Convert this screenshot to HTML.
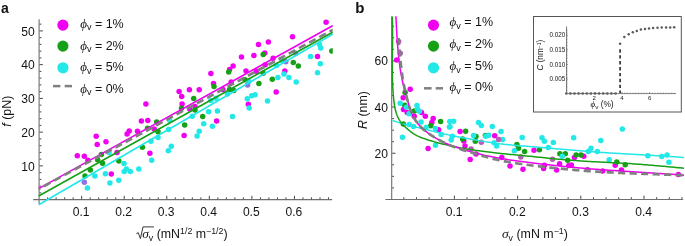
<!DOCTYPE html>
<html><head><meta charset="utf-8"><style>
html,body{margin:0;padding:0;background:#fff;}
svg{display:block;filter:blur(0.4px);}
</style></head><body>
<svg xmlns="http://www.w3.org/2000/svg" width="685" height="246" viewBox="0 0 685 246">
<rect width="685" height="246" fill="#fff"/>
<defs><clipPath id="cl"><rect x="33" y="15" width="299.8" height="195"/></clipPath><clipPath id="cr"><rect x="385" y="15" width="300" height="185"/></clipPath></defs><g stroke="#6e6e6e" stroke-width="1.1" fill="none"><line x1="33.1" y1="199.65" x2="332.2" y2="199.65"/><line x1="39.1" y1="19.3" x2="39.1" y2="204.2"/></g><g stroke="#333" stroke-width="0.9"><line x1="47.61" y1="199.15" x2="47.61" y2="197.35" /><line x1="56.12" y1="199.15" x2="56.12" y2="197.35" /><line x1="64.64" y1="199.15" x2="64.64" y2="197.35" /><line x1="73.15" y1="199.15" x2="73.15" y2="197.35" /><line x1="90.17" y1="199.15" x2="90.17" y2="197.35" /><line x1="98.68" y1="199.15" x2="98.68" y2="197.35" /><line x1="107.20" y1="199.15" x2="107.20" y2="197.35" /><line x1="115.71" y1="199.15" x2="115.71" y2="197.35" /><line x1="132.73" y1="199.15" x2="132.73" y2="197.35" /><line x1="141.24" y1="199.15" x2="141.24" y2="197.35" /><line x1="149.76" y1="199.15" x2="149.76" y2="197.35" /><line x1="158.27" y1="199.15" x2="158.27" y2="197.35" /><line x1="175.29" y1="199.15" x2="175.29" y2="197.35" /><line x1="183.80" y1="199.15" x2="183.80" y2="197.35" /><line x1="192.32" y1="199.15" x2="192.32" y2="197.35" /><line x1="200.83" y1="199.15" x2="200.83" y2="197.35" /><line x1="217.85" y1="199.15" x2="217.85" y2="197.35" /><line x1="226.36" y1="199.15" x2="226.36" y2="197.35" /><line x1="234.88" y1="199.15" x2="234.88" y2="197.35" /><line x1="243.39" y1="199.15" x2="243.39" y2="197.35" /><line x1="260.41" y1="199.15" x2="260.41" y2="197.35" /><line x1="268.92" y1="199.15" x2="268.92" y2="197.35" /><line x1="277.44" y1="199.15" x2="277.44" y2="197.35" /><line x1="285.95" y1="199.15" x2="285.95" y2="197.35" /><line x1="302.97" y1="199.15" x2="302.97" y2="197.35" /><line x1="311.48" y1="199.15" x2="311.48" y2="197.35" /><line x1="320.00" y1="199.15" x2="320.00" y2="197.35" /><line x1="328.51" y1="199.15" x2="328.51" y2="197.35" /><line x1="81.66" y1="199.15" x2="81.66" y2="195.85" /><line x1="124.22" y1="199.15" x2="124.22" y2="195.85" /><line x1="166.78" y1="199.15" x2="166.78" y2="195.85" /><line x1="209.34" y1="199.15" x2="209.34" y2="195.85" /><line x1="251.90" y1="199.15" x2="251.90" y2="195.85" /><line x1="294.46" y1="199.15" x2="294.46" y2="195.85" /><line x1="39.6" y1="192.90" x2="41.4" y2="192.90" /><line x1="39.6" y1="186.15" x2="41.4" y2="186.15" /><line x1="39.6" y1="179.40" x2="41.4" y2="179.40" /><line x1="39.6" y1="172.65" x2="41.4" y2="172.65" /><line x1="39.6" y1="159.15" x2="41.4" y2="159.15" /><line x1="39.6" y1="152.40" x2="41.4" y2="152.40" /><line x1="39.6" y1="145.65" x2="41.4" y2="145.65" /><line x1="39.6" y1="138.90" x2="41.4" y2="138.90" /><line x1="39.6" y1="125.40" x2="41.4" y2="125.40" /><line x1="39.6" y1="118.65" x2="41.4" y2="118.65" /><line x1="39.6" y1="111.90" x2="41.4" y2="111.90" /><line x1="39.6" y1="105.15" x2="41.4" y2="105.15" /><line x1="39.6" y1="91.65" x2="41.4" y2="91.65" /><line x1="39.6" y1="84.90" x2="41.4" y2="84.90" /><line x1="39.6" y1="78.15" x2="41.4" y2="78.15" /><line x1="39.6" y1="71.40" x2="41.4" y2="71.40" /><line x1="39.6" y1="57.90" x2="41.4" y2="57.90" /><line x1="39.6" y1="51.15" x2="41.4" y2="51.15" /><line x1="39.6" y1="44.40" x2="41.4" y2="44.40" /><line x1="39.6" y1="37.65" x2="41.4" y2="37.65" /><line x1="39.6" y1="24.15" x2="41.4" y2="24.15" /><line x1="39.6" y1="165.90" x2="42.9" y2="165.90" /><line x1="39.6" y1="132.15" x2="42.9" y2="132.15" /><line x1="39.6" y1="98.40" x2="42.9" y2="98.40" /><line x1="39.6" y1="64.65" x2="42.9" y2="64.65" /><line x1="39.6" y1="30.90" x2="42.9" y2="30.90" /></g><g font-family="Liberation Sans, sans-serif" font-size="12.1" fill="#141414" text-anchor="middle"><text x="81.1" y="216.2">0.1</text><text x="123.6" y="216.2">0.2</text><text x="166.2" y="216.2">0.3</text><text x="208.7" y="216.2">0.4</text><text x="251.3" y="216.2">0.5</text><text x="293.9" y="216.2">0.6</text></g><g font-family="Liberation Sans, sans-serif" font-size="12.1" fill="#141414" text-anchor="end"><text x="34.7" y="170.5">10</text><text x="34.7" y="136.8">20</text><text x="34.7" y="103.0">30</text><text x="34.7" y="69.2">40</text><text x="34.7" y="35.5">50</text></g><g clip-path="url(#cl)"><circle cx="77.3" cy="155.8" r="2.75" fill="#f000f0"/><circle cx="84.3" cy="156.3" r="2.75" fill="#f000f0"/><circle cx="87.9" cy="160.3" r="2.75" fill="#f000f0"/><circle cx="96.2" cy="136.3" r="2.75" fill="#f000f0"/><circle cx="97.2" cy="144.5" r="2.75" fill="#f000f0"/><circle cx="106" cy="141.7" r="2.75" fill="#f000f0"/><circle cx="111.3" cy="174.1" r="2.75" fill="#f000f0"/><circle cx="117" cy="152.4" r="2.75" fill="#f000f0"/><circle cx="129.2" cy="131" r="2.75" fill="#f000f0"/><circle cx="127.1" cy="134" r="2.75" fill="#f000f0"/><circle cx="137.5" cy="131.3" r="2.75" fill="#f000f0"/><circle cx="141.4" cy="121.1" r="2.75" fill="#f000f0"/><circle cx="147.8" cy="120.5" r="2.75" fill="#f000f0"/><circle cx="145.9" cy="104" r="2.75" fill="#f000f0"/><circle cx="149.9" cy="153.2" r="2.75" fill="#f000f0"/><circle cx="154.2" cy="129" r="2.75" fill="#f000f0"/><circle cx="179.1" cy="91.6" r="2.75" fill="#f000f0"/><circle cx="181.7" cy="96.4" r="2.75" fill="#f000f0"/><circle cx="182.1" cy="103.9" r="2.75" fill="#f000f0"/><circle cx="189.4" cy="89.7" r="2.75" fill="#f000f0"/><circle cx="199.2" cy="89.7" r="2.75" fill="#f000f0"/><circle cx="189.7" cy="109" r="2.75" fill="#f000f0"/><circle cx="194.9" cy="106.6" r="2.75" fill="#f000f0"/><circle cx="184.1" cy="135.4" r="2.75" fill="#f000f0"/><circle cx="216.6" cy="121" r="2.75" fill="#f000f0"/><circle cx="210.9" cy="73.4" r="2.75" fill="#f000f0"/><circle cx="213.5" cy="83.5" r="2.75" fill="#f000f0"/><circle cx="222.9" cy="89.6" r="2.75" fill="#f000f0"/><circle cx="233.1" cy="66" r="2.75" fill="#f000f0"/><circle cx="229.6" cy="69.6" r="2.75" fill="#f000f0"/><circle cx="231.2" cy="82" r="2.75" fill="#f000f0"/><circle cx="241.5" cy="57" r="2.75" fill="#f000f0"/><circle cx="246" cy="71.1" r="2.75" fill="#f000f0"/><circle cx="256.4" cy="71.3" r="2.75" fill="#f000f0"/><circle cx="253.9" cy="55.6" r="2.75" fill="#f000f0"/><circle cx="264.8" cy="53.0" r="2.75" fill="#f000f0"/><circle cx="258.5" cy="44.6" r="2.75" fill="#f000f0"/><circle cx="268.4" cy="42.1" r="2.75" fill="#f000f0"/><circle cx="265.2" cy="64.7" r="2.75" fill="#f000f0"/><circle cx="273.1" cy="58.2" r="2.75" fill="#f000f0"/><circle cx="292.5" cy="36.7" r="2.75" fill="#f000f0"/><circle cx="326.1" cy="22.3" r="2.75" fill="#f000f0"/><circle cx="284.8" cy="71.1" r="2.75" fill="#f000f0"/><circle cx="317.5" cy="56.6" r="2.75" fill="#f000f0"/><circle cx="276.2" cy="92.1" r="2.75" fill="#f000f0"/><circle cx="248.3" cy="104.2" r="2.75" fill="#f000f0"/><circle cx="85" cy="176" r="2.75" fill="#16a016"/><circle cx="90.3" cy="170.1" r="2.75" fill="#16a016"/><circle cx="97.6" cy="159.8" r="2.75" fill="#16a016"/><circle cx="101.4" cy="154.4" r="2.75" fill="#16a016"/><circle cx="102.5" cy="163.3" r="2.75" fill="#16a016"/><circle cx="118.8" cy="161.1" r="2.75" fill="#16a016"/><circle cx="142.4" cy="147.2" r="2.75" fill="#16a016"/><circle cx="147.5" cy="128.2" r="2.75" fill="#16a016"/><circle cx="156.7" cy="122" r="2.75" fill="#16a016"/><circle cx="158" cy="131.7" r="2.75" fill="#16a016"/><circle cx="181.5" cy="108.2" r="2.75" fill="#16a016"/><circle cx="184.7" cy="125" r="2.75" fill="#16a016"/><circle cx="193.7" cy="98.4" r="2.75" fill="#16a016"/><circle cx="195" cy="110.1" r="2.75" fill="#16a016"/><circle cx="202.7" cy="116.4" r="2.75" fill="#16a016"/><circle cx="214" cy="86.5" r="2.75" fill="#16a016"/><circle cx="228.7" cy="72" r="2.75" fill="#16a016"/><circle cx="229.5" cy="89.6" r="2.75" fill="#16a016"/><circle cx="233.8" cy="90.4" r="2.75" fill="#16a016"/><circle cx="245.1" cy="79.7" r="2.75" fill="#16a016"/><circle cx="258.9" cy="83.4" r="2.75" fill="#16a016"/><circle cx="263.2" cy="54.6" r="2.75" fill="#16a016"/><circle cx="263.2" cy="73.3" r="2.75" fill="#16a016"/><circle cx="272.3" cy="79.2" r="2.75" fill="#16a016"/><circle cx="293.3" cy="62.6" r="2.75" fill="#16a016"/><circle cx="298.3" cy="65.9" r="2.75" fill="#16a016"/><circle cx="331.8" cy="50.9" r="2.75" fill="#16a016"/><circle cx="87.4" cy="188.0" r="2.75" fill="#22e8e8"/><circle cx="94.9" cy="176" r="2.75" fill="#22e8e8"/><circle cx="105.4" cy="173.8" r="2.75" fill="#22e8e8"/><circle cx="109.9" cy="183" r="2.75" fill="#22e8e8"/><circle cx="118.8" cy="180.3" r="2.75" fill="#22e8e8"/><circle cx="109" cy="152.5" r="2.75" fill="#22e8e8"/><circle cx="124" cy="163.5" r="2.75" fill="#22e8e8"/><circle cx="126.4" cy="169" r="2.75" fill="#22e8e8"/><circle cx="124.2" cy="171.5" r="2.75" fill="#22e8e8"/><circle cx="130.3" cy="171.5" r="2.75" fill="#22e8e8"/><circle cx="138.8" cy="169" r="2.75" fill="#22e8e8"/><circle cx="151" cy="141.3" r="2.75" fill="#22e8e8"/><circle cx="151.7" cy="160.3" r="2.75" fill="#22e8e8"/><circle cx="158" cy="137.6" r="2.75" fill="#22e8e8"/><circle cx="168.6" cy="129.4" r="2.75" fill="#22e8e8"/><circle cx="169.6" cy="120.3" r="2.75" fill="#22e8e8"/><circle cx="171.3" cy="146.3" r="2.75" fill="#22e8e8"/><circle cx="168.3" cy="150.8" r="2.75" fill="#22e8e8"/><circle cx="192.2" cy="116.3" r="2.75" fill="#22e8e8"/><circle cx="199.2" cy="131.2" r="2.75" fill="#22e8e8"/><circle cx="197.1" cy="136.1" r="2.75" fill="#22e8e8"/><circle cx="203.7" cy="123.7" r="2.75" fill="#22e8e8"/><circle cx="208.6" cy="111.8" r="2.75" fill="#22e8e8"/><circle cx="212.4" cy="126.2" r="2.75" fill="#22e8e8"/><circle cx="217.4" cy="111" r="2.75" fill="#22e8e8"/><circle cx="210.8" cy="100.4" r="2.75" fill="#22e8e8"/><circle cx="216" cy="98.3" r="2.75" fill="#22e8e8"/><circle cx="227.4" cy="94" r="2.75" fill="#22e8e8"/><circle cx="232.5" cy="116.5" r="2.75" fill="#22e8e8"/><circle cx="248.8" cy="81.6" r="2.75" fill="#22e8e8"/><circle cx="247.3" cy="98.7" r="2.75" fill="#22e8e8"/><circle cx="251.7" cy="95.8" r="2.75" fill="#22e8e8"/><circle cx="255.1" cy="94.8" r="2.75" fill="#22e8e8"/><circle cx="249.2" cy="108" r="2.75" fill="#22e8e8"/><circle cx="267.5" cy="100.9" r="2.75" fill="#22e8e8"/><circle cx="276.4" cy="65.4" r="2.75" fill="#22e8e8"/><circle cx="282.1" cy="60.5" r="2.75" fill="#22e8e8"/><circle cx="277.9" cy="77.6" r="2.75" fill="#22e8e8"/><circle cx="284" cy="73.9" r="2.75" fill="#22e8e8"/><circle cx="288.9" cy="77.5" r="2.75" fill="#22e8e8"/><circle cx="296.2" cy="82" r="2.75" fill="#22e8e8"/><circle cx="310.5" cy="56.5" r="2.75" fill="#22e8e8"/><circle cx="319.5" cy="44.5" r="2.75" fill="#22e8e8"/><circle cx="320.7" cy="48" r="2.75" fill="#22e8e8"/><circle cx="320.3" cy="63.7" r="2.75" fill="#22e8e8"/><circle cx="317.5" cy="72.8" r="2.75" fill="#22e8e8"/><circle cx="84.3" cy="182.2" r="2.75" fill="#9070e6"/><circle cx="247.6" cy="84.9" r="2.75" fill="#9070e6"/><circle cx="285.8" cy="61.7" r="2.75" fill="#9070e6"/><circle cx="295.6" cy="53.3" r="2.75" fill="#9070e6"/><line x1="38.7" y1="204.8" x2="333" y2="34.0" stroke="#22e8e8" stroke-width="1.6"/><line x1="38.7" y1="196.0" x2="333" y2="32.0" stroke="#16a016" stroke-width="1.6"/><line x1="38.7" y1="188.6" x2="333" y2="25.5" stroke="#f000f0" stroke-width="1.6"/><line x1="38.7" y1="189.0" x2="333" y2="29.7" stroke="#808080" stroke-width="2.7" stroke-dasharray="7.4 4.2" stroke-dashoffset="5.7"/></g><g stroke="#6e6e6e" stroke-width="1.1" fill="none"><line x1="385.4" y1="199.45" x2="683.2" y2="199.45"/><line x1="391.7" y1="16.5" x2="391.7" y2="199.45"/></g><g stroke="#333" stroke-width="0.9"><line x1="403.84" y1="198.95" x2="403.84" y2="197.14999999999998" /><line x1="416.48" y1="198.95" x2="416.48" y2="197.14999999999998" /><line x1="429.12" y1="198.95" x2="429.12" y2="197.14999999999998" /><line x1="441.76" y1="198.95" x2="441.76" y2="197.14999999999998" /><line x1="467.04" y1="198.95" x2="467.04" y2="197.14999999999998" /><line x1="479.68" y1="198.95" x2="479.68" y2="197.14999999999998" /><line x1="492.32" y1="198.95" x2="492.32" y2="197.14999999999998" /><line x1="504.96" y1="198.95" x2="504.96" y2="197.14999999999998" /><line x1="530.24" y1="198.95" x2="530.24" y2="197.14999999999998" /><line x1="542.88" y1="198.95" x2="542.88" y2="197.14999999999998" /><line x1="555.52" y1="198.95" x2="555.52" y2="197.14999999999998" /><line x1="568.16" y1="198.95" x2="568.16" y2="197.14999999999998" /><line x1="593.44" y1="198.95" x2="593.44" y2="197.14999999999998" /><line x1="606.08" y1="198.95" x2="606.08" y2="197.14999999999998" /><line x1="618.72" y1="198.95" x2="618.72" y2="197.14999999999998" /><line x1="631.36" y1="198.95" x2="631.36" y2="197.14999999999998" /><line x1="656.64" y1="198.95" x2="656.64" y2="197.14999999999998" /><line x1="669.28" y1="198.95" x2="669.28" y2="197.14999999999998" /><line x1="681.92" y1="198.95" x2="681.92" y2="197.14999999999998" /><line x1="454.40" y1="198.95" x2="454.40" y2="195.64999999999998" /><line x1="517.60" y1="198.95" x2="517.60" y2="195.64999999999998" /><line x1="580.80" y1="198.95" x2="580.80" y2="195.64999999999998" /><line x1="644.00" y1="198.95" x2="644.00" y2="195.64999999999998" /><line x1="392.2" y1="187.90" x2="394.0" y2="187.90" /><line x1="392.2" y1="176.35" x2="394.0" y2="176.35" /><line x1="392.2" y1="164.80" x2="394.0" y2="164.80" /><line x1="392.2" y1="141.70" x2="394.0" y2="141.70" /><line x1="392.2" y1="130.15" x2="394.0" y2="130.15" /><line x1="392.2" y1="118.60" x2="394.0" y2="118.60" /><line x1="392.2" y1="95.50" x2="394.0" y2="95.50" /><line x1="392.2" y1="83.95" x2="394.0" y2="83.95" /><line x1="392.2" y1="72.40" x2="394.0" y2="72.40" /><line x1="392.2" y1="49.30" x2="394.0" y2="49.30" /><line x1="392.2" y1="37.75" x2="394.0" y2="37.75" /><line x1="392.2" y1="26.20" x2="394.0" y2="26.20" /><line x1="392.2" y1="153.25" x2="395.5" y2="153.25" /><line x1="392.2" y1="107.05" x2="395.5" y2="107.05" /><line x1="392.2" y1="60.85" x2="395.5" y2="60.85" /></g><g font-family="Liberation Sans, sans-serif" font-size="12.1" fill="#141414" text-anchor="middle"><text x="454.1" y="216.2">0.1</text><text x="517.3" y="216.2">0.2</text><text x="580.5" y="216.2">0.3</text><text x="643.7" y="216.2">0.4</text></g><g font-family="Liberation Sans, sans-serif" font-size="12.1" fill="#141414" text-anchor="end"><text x="387.9" y="157.8">20</text><text x="387.9" y="111.5">40</text><text x="387.9" y="65.3">60</text></g><g clip-path="url(#cr)"><circle cx="396.7" cy="60" r="2.75" fill="#f000f0"/><circle cx="438.6" cy="129.8" r="2.75" fill="#f000f0"/><circle cx="421.5" cy="112.4" r="2.75" fill="#f000f0"/><circle cx="414.2" cy="116.3" r="2.75" fill="#f000f0"/><circle cx="410.2" cy="89.3" r="2.75" fill="#f000f0"/><circle cx="403.2" cy="97.7" r="2.75" fill="#f000f0"/><circle cx="403.5" cy="109.6" r="2.75" fill="#f000f0"/><circle cx="407.2" cy="112.5" r="2.75" fill="#f000f0"/><circle cx="425.3" cy="116.3" r="2.75" fill="#f000f0"/><circle cx="433.2" cy="118.4" r="2.75" fill="#f000f0"/><circle cx="431.8" cy="122.4" r="2.75" fill="#f000f0"/><circle cx="428.1" cy="148.6" r="2.75" fill="#f000f0"/><circle cx="460.1" cy="131.4" r="2.75" fill="#f000f0"/><circle cx="463.8" cy="141.1" r="2.75" fill="#f000f0"/><circle cx="465" cy="146" r="2.75" fill="#f000f0"/><circle cx="476" cy="153.9" r="2.75" fill="#f000f0"/><circle cx="470.2" cy="159.4" r="2.75" fill="#f000f0"/><circle cx="494.7" cy="135.8" r="2.75" fill="#f000f0"/><circle cx="501.8" cy="157.6" r="2.75" fill="#f000f0"/><circle cx="510" cy="166" r="2.75" fill="#f000f0"/><circle cx="523" cy="169.3" r="2.75" fill="#f000f0"/><circle cx="534" cy="150.3" r="2.75" fill="#f000f0"/><circle cx="544.4" cy="165.2" r="2.75" fill="#f000f0"/><circle cx="543.6" cy="168.5" r="2.75" fill="#f000f0"/><circle cx="556.6" cy="170.1" r="2.75" fill="#f000f0"/><circle cx="559.6" cy="163.8" r="2.75" fill="#f000f0"/><circle cx="574.4" cy="157.6" r="2.75" fill="#f000f0"/><circle cx="583.8" cy="156.3" r="2.75" fill="#f000f0"/><circle cx="568.8" cy="165.4" r="2.75" fill="#f000f0"/><circle cx="571.3" cy="165" r="2.75" fill="#f000f0"/><circle cx="615.2" cy="165.3" r="2.75" fill="#f000f0"/><circle cx="602.7" cy="171" r="2.75" fill="#f000f0"/><circle cx="621.5" cy="170" r="2.75" fill="#f000f0"/><circle cx="678.4" cy="174.4" r="2.75" fill="#f000f0"/><circle cx="405.1" cy="92.5" r="2.75" fill="#16a016"/><circle cx="404.8" cy="105.2" r="2.75" fill="#16a016"/><circle cx="414.3" cy="111" r="2.75" fill="#16a016"/><circle cx="403.3" cy="123.9" r="2.75" fill="#16a016"/><circle cx="440.6" cy="121.4" r="2.75" fill="#16a016"/><circle cx="430.7" cy="125.8" r="2.75" fill="#16a016"/><circle cx="465.6" cy="131.3" r="2.75" fill="#16a016"/><circle cx="462.6" cy="138.9" r="2.75" fill="#16a016"/><circle cx="476" cy="136.6" r="2.75" fill="#16a016"/><circle cx="475.3" cy="141.2" r="2.75" fill="#16a016"/><circle cx="485.4" cy="135.6" r="2.75" fill="#16a016"/><circle cx="516.9" cy="144.6" r="2.75" fill="#16a016"/><circle cx="518.5" cy="148.2" r="2.75" fill="#16a016"/><circle cx="524.6" cy="151.6" r="2.75" fill="#16a016"/><circle cx="539.4" cy="149.8" r="2.75" fill="#16a016"/><circle cx="559.9" cy="153.7" r="2.75" fill="#16a016"/><circle cx="565.3" cy="153.7" r="2.75" fill="#16a016"/><circle cx="576.1" cy="155" r="2.75" fill="#16a016"/><circle cx="581" cy="155" r="2.75" fill="#16a016"/><circle cx="567.7" cy="160.3" r="2.75" fill="#16a016"/><circle cx="616.8" cy="162.1" r="2.75" fill="#16a016"/><circle cx="625.2" cy="164.8" r="2.75" fill="#16a016"/><circle cx="400.2" cy="103.2" r="2.75" fill="#22e8e8"/><circle cx="406.5" cy="107.2" r="2.75" fill="#22e8e8"/><circle cx="409" cy="113.8" r="2.75" fill="#22e8e8"/><circle cx="417" cy="105.5" r="2.75" fill="#22e8e8"/><circle cx="417.5" cy="109.3" r="2.75" fill="#22e8e8"/><circle cx="419.4" cy="111.2" r="2.75" fill="#22e8e8"/><circle cx="421" cy="122" r="2.75" fill="#22e8e8"/><circle cx="409.2" cy="124.4" r="2.75" fill="#22e8e8"/><circle cx="413.5" cy="126.4" r="2.75" fill="#22e8e8"/><circle cx="402.5" cy="137.2" r="2.75" fill="#22e8e8"/><circle cx="426.1" cy="127.4" r="2.75" fill="#22e8e8"/><circle cx="435.4" cy="128.5" r="2.75" fill="#22e8e8"/><circle cx="449.8" cy="121.4" r="2.75" fill="#22e8e8"/><circle cx="453.6" cy="121.3" r="2.75" fill="#22e8e8"/><circle cx="450" cy="126.8" r="2.75" fill="#22e8e8"/><circle cx="449.5" cy="127" r="2.75" fill="#22e8e8"/><circle cx="441.1" cy="134.6" r="2.75" fill="#22e8e8"/><circle cx="452.3" cy="136.2" r="2.75" fill="#22e8e8"/><circle cx="451.2" cy="140" r="2.75" fill="#22e8e8"/><circle cx="435.5" cy="145.3" r="2.75" fill="#22e8e8"/><circle cx="478.5" cy="122.4" r="2.75" fill="#22e8e8"/><circle cx="481.3" cy="125.4" r="2.75" fill="#22e8e8"/><circle cx="492.3" cy="126.5" r="2.75" fill="#22e8e8"/><circle cx="501" cy="131.6" r="2.75" fill="#22e8e8"/><circle cx="488.8" cy="135.3" r="2.75" fill="#22e8e8"/><circle cx="473.6" cy="135.5" r="2.75" fill="#22e8e8"/><circle cx="485.8" cy="136.2" r="2.75" fill="#22e8e8"/><circle cx="502.6" cy="139.4" r="2.75" fill="#22e8e8"/><circle cx="494.1" cy="142.7" r="2.75" fill="#22e8e8"/><circle cx="496.6" cy="146" r="2.75" fill="#22e8e8"/><circle cx="522.2" cy="137.6" r="2.75" fill="#22e8e8"/><circle cx="514.4" cy="150.8" r="2.75" fill="#22e8e8"/><circle cx="542" cy="137.8" r="2.75" fill="#22e8e8"/><circle cx="544.4" cy="141.2" r="2.75" fill="#22e8e8"/><circle cx="553.3" cy="142.4" r="2.75" fill="#22e8e8"/><circle cx="548.3" cy="147.4" r="2.75" fill="#22e8e8"/><circle cx="562.3" cy="156.2" r="2.75" fill="#22e8e8"/><circle cx="573.7" cy="137.7" r="2.75" fill="#22e8e8"/><circle cx="591" cy="148.3" r="2.75" fill="#22e8e8"/><circle cx="588.3" cy="151.5" r="2.75" fill="#22e8e8"/><circle cx="597.3" cy="151.4" r="2.75" fill="#22e8e8"/><circle cx="600.8" cy="140.4" r="2.75" fill="#22e8e8"/><circle cx="609.2" cy="159.8" r="2.75" fill="#22e8e8"/><circle cx="622.3" cy="129.1" r="2.75" fill="#22e8e8"/><circle cx="647.9" cy="155.7" r="2.75" fill="#22e8e8"/><circle cx="661.8" cy="156.4" r="2.75" fill="#22e8e8"/><circle cx="667" cy="154.9" r="2.75" fill="#22e8e8"/><circle cx="668.9" cy="162.3" r="2.75" fill="#22e8e8"/><circle cx="398.6" cy="41.5" r="2.75" fill="#b85cb8"/><circle cx="400.3" cy="53.3" r="2.75" fill="#b85cb8"/><circle cx="471.1" cy="149" r="2.75" fill="#b85cb8"/><circle cx="481.3" cy="142.2" r="2.75" fill="#b85cb8"/><circle cx="498.6" cy="139.6" r="2.75" fill="#b85cb8"/><circle cx="520.8" cy="157.1" r="2.75" fill="#b85cb8"/><circle cx="552.5" cy="159.2" r="2.75" fill="#b85cb8"/><circle cx="587.5" cy="169.5" r="2.75" fill="#b85cb8"/><path d="M392.50,120.50 L393.90,120.98 L395.30,121.45 L396.71,121.91 L398.12,122.35 L399.54,122.79 L400.96,123.21 L402.38,123.62 L403.81,124.03 L405.23,124.42 L406.67,124.80 L408.10,125.17 L409.53,125.53 L410.97,125.89 L412.41,126.25 L413.85,126.60 L415.29,126.95 L416.72,127.29 L418.16,127.64 L419.60,127.99 L421.04,128.33 L422.48,128.68 L423.92,129.03 L425.36,129.38 L426.80,129.73 L428.24,130.08 L429.67,130.43 L431.11,130.78 L432.55,131.13 L433.99,131.49 L435.43,131.84 L436.87,132.18 L438.31,132.53 L439.75,132.88 L441.19,133.22 L442.63,133.55 L444.07,133.89 L445.52,134.22 L446.96,134.54 L448.41,134.86 L449.85,135.17 L451.30,135.47 L452.75,135.77 L454.20,136.06 L455.66,136.35 L457.11,136.63 L458.56,136.91 L460.02,137.18 L461.48,137.45 L462.93,137.72 L464.39,137.98 L465.85,138.25 L467.30,138.51 L468.76,138.78 L470.22,139.04 L471.68,139.30 L473.13,139.57 L474.59,139.83 L476.05,140.10 L477.51,140.36 L478.96,140.62 L480.42,140.88 L481.88,141.13 L483.34,141.38 L484.80,141.63 L486.26,141.87 L487.72,142.11 L489.18,142.34 L490.65,142.57 L492.11,142.79 L493.58,143.00 L495.04,143.21 L496.51,143.40 L497.98,143.59 L499.44,143.77 L500.91,143.95 L502.38,144.12 L503.86,144.28 L505.33,144.43 L506.80,144.58 L508.27,144.73 L509.75,144.87 L511.22,145.01 L512.70,145.14 L514.17,145.27 L515.65,145.40 L517.13,145.52 L518.60,145.64 L520.08,145.76 L521.55,145.88 L523.03,146.00 L524.51,146.12 L525.98,146.24 L527.46,146.36 L528.94,146.48 L530.41,146.60 L531.89,146.72 L533.37,146.84 L534.84,146.96 L536.32,147.08 L537.79,147.20 L539.27,147.33 L540.74,147.45 L542.22,147.58 L543.69,147.70 L545.17,147.83 L546.64,147.95 L548.12,148.08 L549.59,148.21 L551.07,148.33 L552.54,148.46 L554.02,148.59 L555.49,148.71 L556.97,148.84 L558.44,148.97 L559.92,149.09 L561.39,149.22 L562.87,149.35 L564.34,149.47 L565.82,149.60 L567.30,149.72 L568.77,149.85 L570.25,149.97 L571.72,150.10 L573.20,150.22 L574.67,150.34 L576.15,150.46 L577.62,150.59 L579.10,150.71 L580.58,150.83 L582.05,150.95 L583.53,151.06 L585.00,151.18 L586.48,151.30 L587.96,151.41 L589.43,151.52 L590.91,151.64 L592.38,151.75 L593.86,151.86 L595.34,151.97 L596.81,152.07 L598.29,152.18 L599.77,152.28 L601.24,152.39 L602.72,152.49 L604.20,152.59 L605.68,152.69 L607.15,152.78 L608.63,152.88 L610.11,152.97 L611.59,153.07 L613.06,153.16 L614.54,153.25 L616.02,153.34 L617.50,153.43 L618.98,153.52 L620.45,153.60 L621.93,153.69 L623.41,153.78 L624.89,153.86 L626.37,153.95 L627.84,154.03 L629.32,154.12 L630.80,154.20 L632.28,154.28 L633.76,154.37 L635.24,154.45 L636.71,154.53 L638.19,154.62 L639.67,154.70 L641.15,154.78 L642.63,154.87 L644.11,154.95 L645.58,155.03 L647.06,155.12 L648.54,155.20 L650.02,155.29 L651.50,155.37 L652.97,155.46 L654.45,155.54 L655.93,155.63 L657.41,155.72 L658.89,155.81 L660.36,155.90 L661.84,155.99 L663.32,156.08 L664.80,156.17 L666.28,156.27 L667.75,156.36 L669.23,156.46 L670.71,156.55 L672.19,156.65 L673.66,156.75 L675.14,156.85 L676.62,156.96 L678.09,157.06 L679.57,157.17 L681.05,157.28 L682.52,157.39 L684.00,157.50" fill="none" stroke="#22e8e8" stroke-width="1.5"/><path d="M392.20,16.50 L392.29,18.49 L392.36,20.49 L392.42,22.49 L392.47,24.48 L392.50,26.48 L392.53,28.48 L392.55,30.48 L392.56,32.48 L392.56,34.48 L392.56,36.48 L392.55,38.48 L392.54,40.48 L392.52,42.48 L392.49,44.48 L392.47,46.49 L392.44,48.49 L392.42,50.49 L392.39,52.49 L392.36,54.50 L392.34,56.50 L392.31,58.50 L392.30,60.50 L392.28,62.51 L392.27,64.51 L392.27,66.51 L392.27,68.51 L392.28,70.51 L392.29,72.51 L392.32,74.51 L392.36,76.51 L392.40,78.51 L392.46,80.51 L392.53,82.51 L392.62,84.51 L392.72,86.50 L392.83,88.50 L392.96,90.49 L393.10,92.49 L393.26,94.48 L393.44,96.47 L393.64,98.47 L393.85,100.46 L394.09,102.44 L394.36,104.43 L394.67,106.40 L395.05,108.37 L395.50,110.32 L396.03,112.25 L396.65,114.15 L397.37,116.02 L398.20,117.85 L399.14,119.63 L400.19,121.33 L401.36,122.95 L402.66,124.47 L404.05,125.91 L405.51,127.28 L407.01,128.63 L408.53,129.94 L410.08,131.21 L411.67,132.42 L413.31,133.56 L415.01,134.61 L416.76,135.56 L418.56,136.44 L420.39,137.24 L422.26,137.98 L424.15,138.67 L426.06,139.32 L427.97,139.94 L429.88,140.53 L431.80,141.09 L433.73,141.63 L435.65,142.16 L437.59,142.67 L439.52,143.18 L441.46,143.67 L443.39,144.16 L445.34,144.64 L447.28,145.10 L449.23,145.55 L451.18,145.99 L453.14,146.42 L455.10,146.82 L457.06,147.21 L459.03,147.57 L461.00,147.93 L462.97,148.27 L464.94,148.59 L466.92,148.91 L468.89,149.23 L470.87,149.54 L472.84,149.84 L474.82,150.14 L476.80,150.44 L478.78,150.73 L480.76,151.01 L482.74,151.29 L484.72,151.57 L486.70,151.83 L488.69,152.09 L490.67,152.34 L492.66,152.58 L494.64,152.81 L496.63,153.04 L498.62,153.25 L500.61,153.46 L502.60,153.67 L504.59,153.86 L506.58,154.05 L508.57,154.24 L510.56,154.43 L512.55,154.61 L514.55,154.79 L516.54,154.98 L518.53,155.16 L520.52,155.35 L522.51,155.54 L524.50,155.74 L526.49,155.93 L528.48,156.14 L530.47,156.34 L532.46,156.54 L534.45,156.75 L536.44,156.95 L538.43,157.16 L540.42,157.37 L542.41,157.57 L544.40,157.78 L546.39,157.98 L548.38,158.18 L550.37,158.38 L552.36,158.58 L554.35,158.77 L556.34,158.96 L558.33,159.15 L560.32,159.33 L562.32,159.51 L564.31,159.68 L566.30,159.85 L568.30,160.01 L570.29,160.17 L572.28,160.33 L574.28,160.48 L576.27,160.62 L578.27,160.77 L580.26,160.90 L582.26,161.04 L584.25,161.17 L586.25,161.29 L588.25,161.42 L590.24,161.53 L592.24,161.65 L594.24,161.76 L596.24,161.87 L598.23,161.97 L600.23,162.07 L602.23,162.17 L604.23,162.26 L606.23,162.36 L608.22,162.45 L610.22,162.55 L612.22,162.64 L614.22,162.74 L616.21,162.84 L618.21,162.94 L620.21,163.04 L622.21,163.15 L624.20,163.26 L626.20,163.37 L628.20,163.49 L630.19,163.61 L632.19,163.74 L634.18,163.88 L636.18,164.02 L638.17,164.16 L640.17,164.31 L642.16,164.47 L644.16,164.63 L646.15,164.79 L648.14,164.96 L650.14,165.13 L652.13,165.30 L654.12,165.47 L656.11,165.65 L658.11,165.83 L660.10,166.01 L662.09,166.19 L664.08,166.37 L666.07,166.56 L668.07,166.74 L670.06,166.93 L672.05,167.11 L674.04,167.30 L676.03,167.48 L678.03,167.66 L680.02,167.84 L682.01,168.02 L684.00,168.20" fill="none" stroke="#16a016" stroke-width="1.5"/><path d="M395.90,16.30 L396.00,18.24 L396.09,20.18 L396.19,22.11 L396.29,24.05 L396.38,25.99 L396.49,27.93 L396.59,29.87 L396.70,31.81 L396.81,33.75 L396.92,35.69 L397.04,37.62 L397.17,39.56 L397.30,41.50 L397.44,43.44 L397.59,45.37 L397.74,47.31 L397.91,49.24 L398.08,51.18 L398.26,53.11 L398.45,55.04 L398.66,56.97 L398.87,58.90 L399.10,60.83 L399.34,62.76 L399.59,64.68 L399.86,66.61 L400.14,68.53 L400.44,70.45 L400.76,72.36 L401.09,74.27 L401.45,76.18 L401.82,78.09 L402.21,79.99 L402.62,81.89 L403.05,83.78 L403.50,85.67 L403.97,87.56 L404.45,89.44 L404.95,91.31 L405.46,93.18 L405.99,95.05 L406.52,96.92 L407.06,98.78 L407.60,100.65 L408.15,102.51 L408.70,104.38 L409.27,106.25 L409.86,108.10 L410.48,109.94 L411.16,111.76 L411.88,113.56 L412.68,115.33 L413.55,117.07 L414.50,118.77 L415.53,120.42 L416.63,122.03 L417.81,123.58 L419.06,125.07 L420.38,126.50 L421.76,127.87 L423.19,129.18 L424.67,130.44 L426.19,131.65 L427.75,132.82 L429.33,133.94 L430.94,135.03 L432.56,136.09 L434.21,137.13 L435.87,138.14 L437.54,139.13 L439.23,140.09 L440.94,141.02 L442.67,141.90 L444.42,142.74 L446.19,143.52 L447.99,144.26 L449.80,144.96 L451.62,145.63 L453.46,146.27 L455.30,146.90 L457.14,147.52 L458.98,148.12 L460.83,148.72 L462.68,149.31 L464.54,149.88 L466.39,150.44 L468.26,151.00 L470.12,151.53 L471.99,152.06 L473.86,152.57 L475.74,153.08 L477.62,153.56 L479.50,154.04 L481.39,154.50 L483.28,154.95 L485.17,155.38 L487.06,155.80 L488.96,156.20 L490.87,156.60 L492.77,156.97 L494.68,157.34 L496.59,157.69 L498.50,158.04 L500.41,158.37 L502.32,158.69 L504.24,159.01 L506.16,159.32 L508.07,159.62 L509.99,159.91 L511.91,160.19 L513.83,160.47 L515.76,160.74 L517.68,161.01 L519.60,161.27 L521.53,161.52 L523.46,161.77 L525.38,162.02 L527.31,162.26 L529.23,162.51 L531.16,162.74 L533.09,162.98 L535.02,163.21 L536.94,163.44 L538.87,163.67 L540.80,163.89 L542.73,164.12 L544.66,164.34 L546.59,164.55 L548.52,164.77 L550.45,164.98 L552.38,165.19 L554.31,165.40 L556.24,165.61 L558.17,165.81 L560.10,166.01 L562.03,166.21 L563.96,166.40 L565.89,166.60 L567.82,166.79 L569.76,166.98 L571.69,167.16 L573.62,167.35 L575.56,167.53 L577.49,167.71 L579.42,167.88 L581.36,168.06 L583.29,168.23 L585.22,168.40 L587.16,168.56 L589.09,168.72 L591.03,168.88 L592.96,169.04 L594.90,169.19 L596.83,169.34 L598.77,169.49 L600.71,169.64 L602.64,169.78 L604.58,169.92 L606.51,170.06 L608.45,170.19 L610.39,170.33 L612.32,170.46 L614.26,170.59 L616.20,170.72 L618.14,170.85 L620.07,170.97 L622.01,171.10 L623.95,171.22 L625.89,171.34 L627.82,171.46 L629.76,171.59 L631.70,171.71 L633.64,171.83 L635.57,171.94 L637.51,172.06 L639.45,172.18 L641.39,172.30 L643.33,172.42 L645.26,172.54 L647.20,172.66 L649.14,172.78 L651.08,172.90 L653.01,173.03 L654.95,173.15 L656.89,173.27 L658.83,173.40 L660.76,173.53 L662.70,173.66 L664.64,173.78 L666.58,173.92 L668.51,174.05 L670.45,174.19 L672.39,174.32 L674.32,174.46 L676.26,174.61 L678.19,174.75 L680.13,174.90 L682.06,175.05 L684.00,175.20" fill="none" stroke="#f000f0" stroke-width="1.5"/><path d="M398.40,38.00 L398.58,39.82 L398.75,41.65 L398.92,43.47 L399.09,45.30 L399.25,47.13 L399.41,48.95 L399.57,50.78 L399.73,52.61 L399.89,54.43 L400.05,56.26 L400.22,58.08 L400.39,59.91 L400.57,61.73 L400.76,63.56 L400.96,65.38 L401.16,67.20 L401.38,69.02 L401.61,70.84 L401.85,72.66 L402.10,74.48 L402.37,76.29 L402.66,78.11 L402.96,79.91 L403.27,81.72 L403.60,83.53 L403.95,85.32 L404.31,87.12 L404.70,88.91 L405.10,90.70 L405.52,92.48 L405.95,94.26 L406.40,96.04 L406.86,97.81 L407.34,99.59 L407.82,101.36 L408.32,103.13 L408.83,104.90 L409.36,106.66 L409.93,108.40 L410.53,110.14 L411.17,111.86 L411.87,113.55 L412.62,115.22 L413.44,116.86 L414.33,118.47 L415.29,120.04 L416.31,121.57 L417.40,123.05 L418.56,124.48 L419.77,125.86 L421.05,127.18 L422.38,128.44 L423.75,129.66 L425.16,130.84 L426.61,131.97 L428.08,133.06 L429.58,134.12 L431.10,135.15 L432.64,136.15 L434.19,137.12 L435.76,138.07 L437.35,138.99 L438.95,139.89 L440.56,140.76 L442.18,141.61 L443.82,142.43 L445.48,143.23 L447.14,143.99 L448.82,144.74 L450.51,145.45 L452.21,146.15 L453.92,146.81 L455.63,147.46 L457.36,148.09 L459.09,148.69 L460.83,149.28 L462.57,149.84 L464.32,150.39 L466.07,150.93 L467.83,151.47 L469.58,151.99 L471.34,152.51 L473.10,153.03 L474.86,153.56 L476.61,154.09 L478.37,154.62 L480.12,155.15 L481.88,155.68 L483.63,156.20 L485.39,156.72 L487.16,157.22 L488.92,157.71 L490.69,158.18 L492.47,158.63 L494.25,159.07 L496.03,159.49 L497.82,159.89 L499.61,160.27 L501.41,160.64 L503.21,161.00 L505.01,161.34 L506.81,161.68 L508.62,162.00 L510.43,162.30 L512.24,162.61 L514.05,162.90 L515.87,163.18 L517.68,163.46 L519.50,163.73 L521.31,163.99 L523.13,164.25 L524.95,164.51 L526.77,164.76 L528.58,165.00 L530.40,165.24 L532.22,165.48 L534.04,165.71 L535.86,165.94 L537.68,166.16 L539.50,166.38 L541.32,166.59 L543.14,166.81 L544.96,167.01 L546.78,167.22 L548.60,167.42 L550.43,167.62 L552.25,167.81 L554.07,168.00 L555.89,168.19 L557.72,168.37 L559.54,168.55 L561.37,168.73 L563.19,168.91 L565.02,169.08 L566.84,169.25 L568.67,169.42 L570.49,169.59 L572.32,169.75 L574.14,169.91 L575.97,170.06 L577.80,170.22 L579.63,170.37 L581.45,170.51 L583.28,170.66 L585.11,170.80 L586.94,170.94 L588.77,171.07 L590.60,171.20 L592.42,171.33 L594.25,171.45 L596.08,171.57 L597.91,171.69 L599.74,171.80 L601.57,171.91 L603.40,172.02 L605.23,172.12 L607.06,172.23 L608.89,172.32 L610.72,172.42 L612.56,172.51 L614.39,172.61 L616.22,172.69 L618.05,172.78 L619.88,172.87 L621.71,172.95 L623.54,173.03 L625.38,173.11 L627.21,173.19 L629.04,173.26 L630.87,173.34 L632.70,173.41 L634.53,173.48 L636.37,173.55 L638.20,173.62 L640.03,173.69 L641.86,173.75 L643.70,173.82 L645.53,173.89 L647.36,173.95 L649.19,174.02 L651.03,174.08 L652.86,174.14 L654.69,174.21 L656.52,174.27 L658.35,174.34 L660.19,174.40 L662.02,174.47 L663.85,174.53 L665.68,174.60 L667.52,174.66 L669.35,174.73 L671.18,174.80 L673.01,174.86 L674.84,174.93 L676.67,175.00 L678.51,175.08 L680.34,175.15 L682.17,175.22 L684.00,175.30" fill="none" stroke="#808080" stroke-width="2.7" stroke-dasharray="7.2 4.3"/></g><circle cx="62.9" cy="25.1" r="5.6" fill="#f000f0"/><circle cx="62.9" cy="46.1" r="5.6" fill="#16a016"/><circle cx="62.9" cy="67.8" r="5.6" fill="#22e8e8"/><circle cx="433.5" cy="25.1" r="5.6" fill="#f000f0"/><circle cx="433.5" cy="46.1" r="5.6" fill="#16a016"/><circle cx="433.5" cy="67.8" r="5.6" fill="#22e8e8"/><g stroke="#808080" stroke-width="2.5"><line x1="53" y1="86.1" x2="60.4" y2="86.1"/><line x1="64.7" y1="86.1" x2="72" y2="86.1"/><line x1="424" y1="88.3" x2="431.6" y2="88.3"/><line x1="435.7" y1="88.3" x2="443" y2="88.3"/></g><text x="80.2" y="27.8" font-family="Liberation Sans, sans-serif" font-size="12.5" fill="#141414"><tspan font-family="Liberation Serif, serif" font-style="italic" font-size="13">&#981;</tspan><tspan font-size="9" dy="2.6">v</tspan><tspan dy="-2.6"> = 1%</tspan></text><text x="449.6" y="26.4" font-family="Liberation Sans, sans-serif" font-size="12.5" fill="#141414"><tspan font-family="Liberation Serif, serif" font-style="italic" font-size="13">&#981;</tspan><tspan font-size="9" dy="2.6">v</tspan><tspan dy="-2.6"> = 1%</tspan></text><text x="80.2" y="49.7" font-family="Liberation Sans, sans-serif" font-size="12.5" fill="#141414"><tspan font-family="Liberation Serif, serif" font-style="italic" font-size="13">&#981;</tspan><tspan font-size="9" dy="2.6">v</tspan><tspan dy="-2.6"> = 2%</tspan></text><text x="449.6" y="48.0" font-family="Liberation Sans, sans-serif" font-size="12.5" fill="#141414"><tspan font-family="Liberation Serif, serif" font-style="italic" font-size="13">&#981;</tspan><tspan font-size="9" dy="2.6">v</tspan><tspan dy="-2.6"> = 2%</tspan></text><text x="80.2" y="71.3" font-family="Liberation Sans, sans-serif" font-size="12.5" fill="#141414"><tspan font-family="Liberation Serif, serif" font-style="italic" font-size="13">&#981;</tspan><tspan font-size="9" dy="2.6">v</tspan><tspan dy="-2.6"> = 5%</tspan></text><text x="449.6" y="69.9" font-family="Liberation Sans, sans-serif" font-size="12.5" fill="#141414"><tspan font-family="Liberation Serif, serif" font-style="italic" font-size="13">&#981;</tspan><tspan font-size="9" dy="2.6">v</tspan><tspan dy="-2.6"> = 5%</tspan></text><text x="80.2" y="92.8" font-family="Liberation Sans, sans-serif" font-size="12.5" fill="#141414"><tspan font-family="Liberation Serif, serif" font-style="italic" font-size="13">&#981;</tspan><tspan font-size="9" dy="2.6">v</tspan><tspan dy="-2.6"> = 0%</tspan></text><text x="449.6" y="91.4" font-family="Liberation Sans, sans-serif" font-size="12.5" fill="#141414"><tspan font-family="Liberation Serif, serif" font-style="italic" font-size="13">&#981;</tspan><tspan font-size="9" dy="2.6">v</tspan><tspan dy="-2.6"> = 0%</tspan></text><text x="0" y="0" transform="translate(10.9,111.2) rotate(-90)" text-anchor="middle" font-family="Liberation Sans, sans-serif" font-size="12.4" fill="#141414"><tspan font-style="italic">f</tspan> (pN)</text><text x="0" y="0" transform="translate(367.0,110.0) rotate(-90)" text-anchor="middle" font-family="Liberation Sans, sans-serif" font-size="12.4" fill="#141414"><tspan font-style="italic">R</tspan> (nm)</text><text x="502" y="238.4" font-family="Liberation Sans, sans-serif" font-size="12.4" fill="#141414"><tspan font-family="Liberation Serif, serif" font-style="italic" font-size="13.4">&#963;</tspan><tspan font-size="8.8" dy="2.6">v</tspan><tspan dy="-2.6"> (mN m</tspan><tspan font-size="8.8" dy="-4.4">&#8722;1</tspan><tspan dy="4.4">)</tspan></text><path d="M136.3,233.8 L138.2,232.6 L140.4,238.6 L143,226.9 L154,226.9" fill="none" stroke="#222" stroke-width="0.9"/><text x="142.2" y="238.1" font-family="Liberation Sans, sans-serif" font-size="12.4" fill="#141414"><tspan font-family="Liberation Serif, serif" font-style="italic" font-size="13.4">&#963;</tspan><tspan font-size="8.8" dy="2.6">v</tspan><tspan dy="-2.6"> (mN</tspan><tspan font-size="8.8" dy="-4.4">1/2</tspan><tspan dy="4.4"> m</tspan><tspan font-size="8.8" dy="-4.4">&#8722;1/2</tspan><tspan dy="4.4">)</tspan></text><text x="0.9" y="13.1" font-family="Liberation Sans, sans-serif" font-weight="bold" font-size="14" fill="#111">a</text><text x="355.3" y="13.2" font-family="Liberation Sans, sans-serif" font-weight="bold" font-size="15" fill="#111">b</text><rect x="533.5" y="16.5" width="147.8" height="95.5" fill="#fff" stroke="#555" stroke-width="1"/><g stroke="#555" stroke-width="0.7"><line x1="566.5" y1="26.2" x2="566.5" y2="93.6"/><line x1="566.5" y1="93.6" x2="676" y2="93.6"/></g><g stroke="#444" stroke-width="0.6"><line x1="566.5" y1="92.14" x2="567.4" y2="92.14"/><line x1="566.5" y1="90.68" x2="567.4" y2="90.68"/><line x1="566.5" y1="89.22" x2="567.4" y2="89.22"/><line x1="566.5" y1="87.76" x2="567.4" y2="87.76"/><line x1="566.5" y1="86.30" x2="567.4" y2="86.30"/><line x1="566.5" y1="84.84" x2="567.4" y2="84.84"/><line x1="566.5" y1="83.38" x2="567.4" y2="83.38"/><line x1="566.5" y1="81.92" x2="567.4" y2="81.92"/><line x1="566.5" y1="80.46" x2="567.4" y2="80.46"/><line x1="566.5" y1="79.00" x2="568.1" y2="79.00"/><line x1="566.5" y1="77.54" x2="567.4" y2="77.54"/><line x1="566.5" y1="76.08" x2="567.4" y2="76.08"/><line x1="566.5" y1="74.62" x2="567.4" y2="74.62"/><line x1="566.5" y1="73.16" x2="567.4" y2="73.16"/><line x1="566.5" y1="71.70" x2="567.4" y2="71.70"/><line x1="566.5" y1="70.24" x2="567.4" y2="70.24"/><line x1="566.5" y1="68.78" x2="567.4" y2="68.78"/><line x1="566.5" y1="67.32" x2="567.4" y2="67.32"/><line x1="566.5" y1="65.86" x2="567.4" y2="65.86"/><line x1="566.5" y1="64.40" x2="568.1" y2="64.40"/><line x1="566.5" y1="62.94" x2="567.4" y2="62.94"/><line x1="566.5" y1="61.48" x2="567.4" y2="61.48"/><line x1="566.5" y1="60.02" x2="567.4" y2="60.02"/><line x1="566.5" y1="58.56" x2="567.4" y2="58.56"/><line x1="566.5" y1="57.10" x2="567.4" y2="57.10"/><line x1="566.5" y1="55.64" x2="567.4" y2="55.64"/><line x1="566.5" y1="54.18" x2="567.4" y2="54.18"/><line x1="566.5" y1="52.72" x2="567.4" y2="52.72"/><line x1="566.5" y1="51.26" x2="567.4" y2="51.26"/><line x1="566.5" y1="49.80" x2="568.1" y2="49.80"/><line x1="566.5" y1="48.34" x2="567.4" y2="48.34"/><line x1="566.5" y1="46.88" x2="567.4" y2="46.88"/><line x1="566.5" y1="45.42" x2="567.4" y2="45.42"/><line x1="566.5" y1="43.96" x2="567.4" y2="43.96"/><line x1="566.5" y1="42.50" x2="567.4" y2="42.50"/><line x1="566.5" y1="41.04" x2="567.4" y2="41.04"/><line x1="566.5" y1="39.58" x2="567.4" y2="39.58"/><line x1="566.5" y1="38.12" x2="567.4" y2="38.12"/><line x1="566.5" y1="36.66" x2="567.4" y2="36.66"/><line x1="566.5" y1="35.20" x2="568.1" y2="35.20"/><line x1="566.5" y1="33.74" x2="567.4" y2="33.74"/><line x1="566.5" y1="32.28" x2="567.4" y2="32.28"/><line x1="566.5" y1="30.82" x2="567.4" y2="30.82"/><line x1="566.5" y1="29.36" x2="567.4" y2="29.36"/><line x1="569.27" y1="93.6" x2="569.27" y2="92.69999999999999"/><line x1="572.04" y1="93.6" x2="572.04" y2="92.69999999999999"/><line x1="574.81" y1="93.6" x2="574.81" y2="92.69999999999999"/><line x1="577.58" y1="93.6" x2="577.58" y2="92.69999999999999"/><line x1="580.35" y1="93.6" x2="580.35" y2="92.69999999999999"/><line x1="583.12" y1="93.6" x2="583.12" y2="92.69999999999999"/><line x1="585.89" y1="93.6" x2="585.89" y2="92.69999999999999"/><line x1="588.66" y1="93.6" x2="588.66" y2="92.69999999999999"/><line x1="591.43" y1="93.6" x2="591.43" y2="92.69999999999999"/><line x1="594.20" y1="93.6" x2="594.20" y2="92.0"/><line x1="596.97" y1="93.6" x2="596.97" y2="92.69999999999999"/><line x1="599.74" y1="93.6" x2="599.74" y2="92.69999999999999"/><line x1="602.51" y1="93.6" x2="602.51" y2="92.69999999999999"/><line x1="605.28" y1="93.6" x2="605.28" y2="92.69999999999999"/><line x1="608.05" y1="93.6" x2="608.05" y2="92.69999999999999"/><line x1="610.82" y1="93.6" x2="610.82" y2="92.69999999999999"/><line x1="613.59" y1="93.6" x2="613.59" y2="92.69999999999999"/><line x1="616.36" y1="93.6" x2="616.36" y2="92.69999999999999"/><line x1="619.13" y1="93.6" x2="619.13" y2="92.69999999999999"/><line x1="621.90" y1="93.6" x2="621.90" y2="92.0"/><line x1="624.67" y1="93.6" x2="624.67" y2="92.69999999999999"/><line x1="627.44" y1="93.6" x2="627.44" y2="92.69999999999999"/><line x1="630.21" y1="93.6" x2="630.21" y2="92.69999999999999"/><line x1="632.98" y1="93.6" x2="632.98" y2="92.69999999999999"/><line x1="635.75" y1="93.6" x2="635.75" y2="92.69999999999999"/><line x1="638.52" y1="93.6" x2="638.52" y2="92.69999999999999"/><line x1="641.29" y1="93.6" x2="641.29" y2="92.69999999999999"/><line x1="644.06" y1="93.6" x2="644.06" y2="92.69999999999999"/><line x1="646.83" y1="93.6" x2="646.83" y2="92.69999999999999"/><line x1="649.60" y1="93.6" x2="649.60" y2="92.0"/><line x1="652.37" y1="93.6" x2="652.37" y2="92.69999999999999"/><line x1="655.14" y1="93.6" x2="655.14" y2="92.69999999999999"/><line x1="657.91" y1="93.6" x2="657.91" y2="92.69999999999999"/><line x1="660.68" y1="93.6" x2="660.68" y2="92.69999999999999"/><line x1="663.45" y1="93.6" x2="663.45" y2="92.69999999999999"/><line x1="666.22" y1="93.6" x2="666.22" y2="92.69999999999999"/><line x1="668.99" y1="93.6" x2="668.99" y2="92.69999999999999"/><line x1="671.76" y1="93.6" x2="671.76" y2="92.69999999999999"/><line x1="674.53" y1="93.6" x2="674.53" y2="92.69999999999999"/></g><g font-family="Liberation Sans, sans-serif" font-size="6.3" fill="#141414" text-anchor="end"><text x="565.3" y="81.2">0.005</text><text x="565.3" y="66.6">0.010</text><text x="565.3" y="52.0">0.015</text><text x="565.3" y="37.4">0.020</text></g><g font-family="Liberation Sans, sans-serif" font-size="6" fill="#141414" text-anchor="middle"><text x="594.2" y="100.3">2</text><text x="621.9" y="100.3">4</text><text x="649.6" y="100.3">6</text></g><text x="0" y="0" transform="translate(543,55.2) rotate(-90)" text-anchor="middle" font-family="Liberation Sans, sans-serif" font-size="8.2" fill="#141414"><tspan font-style="italic">C</tspan> (nm<tspan font-size="5" dy="-2.5">&#8722;1</tspan><tspan dy="2.5">)</tspan></text><text x="590.6" y="107.4" font-family="Liberation Sans, sans-serif" font-size="8.3" fill="#141414"><tspan font-family="Liberation Serif, serif" font-style="italic" font-size="9">&#981;</tspan><tspan font-size="6.2" dy="1.8">v</tspan><tspan dy="-1.8"> (%)</tspan></text><g fill="#5a5a5a"><circle cx="566.30" cy="93.6" r="1.25"/><circle cx="570.40" cy="93.6" r="1.25"/><circle cx="574.50" cy="93.6" r="1.25"/><circle cx="578.60" cy="93.6" r="1.25"/><circle cx="582.70" cy="93.6" r="1.25"/><circle cx="586.80" cy="93.6" r="1.25"/><circle cx="590.90" cy="93.6" r="1.25"/><circle cx="595.00" cy="93.6" r="1.25"/><circle cx="599.10" cy="93.6" r="1.25"/><circle cx="603.20" cy="93.6" r="1.25"/><circle cx="607.30" cy="93.6" r="1.25"/><circle cx="611.40" cy="93.6" r="1.25"/><circle cx="615.50" cy="93.6" r="1.25"/><circle cx="620.1" cy="43.8" r="1.25"/><circle cx="624.3" cy="37.1" r="1.25"/><circle cx="628.7" cy="34.3" r="1.25"/><circle cx="632.8" cy="32.2" r="1.25"/><circle cx="636.8" cy="30.9" r="1.25"/><circle cx="640.9" cy="29.6" r="1.25"/><circle cx="645" cy="28.9" r="1.25"/><circle cx="649" cy="28.4" r="1.25"/><circle cx="653.1" cy="28.1" r="1.25"/><circle cx="657.5" cy="27.8" r="1.25"/><circle cx="661.7" cy="27.6" r="1.25"/><circle cx="666.1" cy="27.5" r="1.25"/><circle cx="670.2" cy="27.4" r="1.25"/><circle cx="674.2" cy="27.3" r="1.25"/></g><line x1="620.1" y1="49.3" x2="620.1" y2="93" stroke="#2a2a2a" stroke-width="1.6" stroke-dasharray="3.4 2.5"/>
</svg></body></html>
